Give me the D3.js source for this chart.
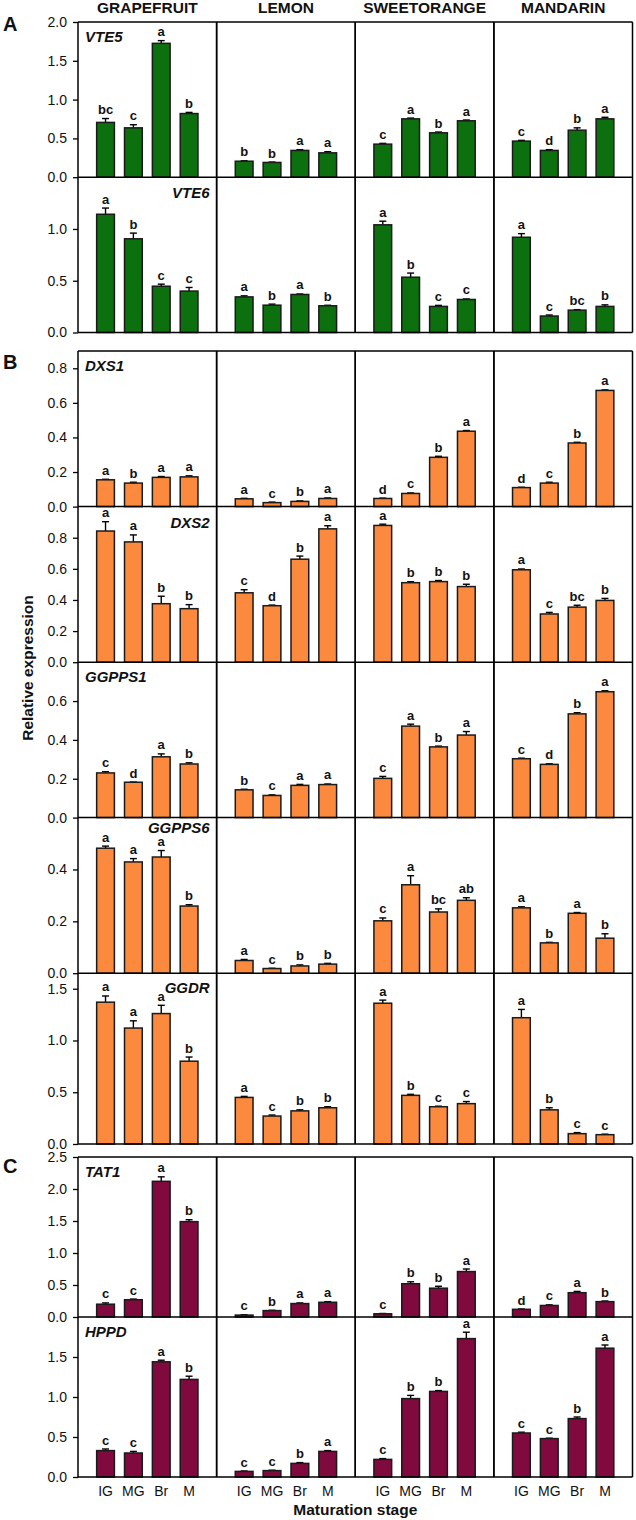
<!DOCTYPE html>
<html><head><meta charset="utf-8">
<script src="https://cdn.jsdelivr.net/npm/d3@7"></script>
<style>body{margin:0;background:#fff}svg{display:block;font-family:"Liberation Sans",Arial,sans-serif}</style>
</head><body><svg id="c" width="636" height="1520"></svg>
<script>
// ---------- data ----------
const fruits = ["GRAPEFRUIT","LEMON","SWEETORANGE","MANDARIN"];
const stages = ["IG","MG","Br","M"];
const genes = ["VTE5","VTE6","DXS1","DXS2","GGPPS1","GGPPS6","GGDR","TAT1","HPPD"];
const sectionLetters = ["A","B","C"];

// means [fruit][stage]
const vte5Mean = [[0.706,0.636,1.725,0.82],[0.206,0.19,0.345,0.314],[0.426,0.752,0.572,0.727],[0.465,0.345,0.606,0.752]];
const vte5Err  = [[0.05,0.04,0.035,0.015],[0.005,0.005,0.01,0.015],[0.01,0.01,0.01,0.01],[0.01,0.01,0.03,0.02]];
const vte5Sig  = [["bc","c","a","b"],["b","b","a","a"],["c","a","b","a"],["c","d","b","a"]];

const vte6Mean = [[1.142,0.905,0.447,0.40],[0.344,0.264,0.367,0.258],[1.04,0.534,0.252,0.319],[0.92,0.159,0.216,0.252]];
const vte6Err  = [[0.06,0.055,0.02,0.035],[0.01,0.01,0.005,0.005],[0.035,0.04,0.01,0.005],[0.035,0.01,0.005,0.015]];
const vte6Sig  = [["a","b","c","c"],["a","b","a","b"],["a","b","c","c"],["a","c","bc","b"]];

const dxs1Mean = [[0.155,0.136,0.169,0.172],[0.045,0.023,0.03,0.047],[0.047,0.076,0.285,0.436],[0.11,0.136,0.368,0.672]];
const dxs1Err  = [[0.003,0.005,0.005,0.006],[0.003,0.003,0.003,0.003],[0.002,0.003,0.006,0.004],[0.002,0.005,0.004,0.003]];
const dxs1Sig  = [["a","b","a","a"],["a","c","b","a"],["d","c","b","a"],["d","c","b","a"]];

const dxs2Mean = [[0.843,0.773,0.376,0.344],[0.446,0.363,0.662,0.857],[0.879,0.511,0.518,0.486],[0.594,0.31,0.354,0.397]];
const dxs2Err  = [[0.06,0.045,0.048,0.026],[0.02,0.004,0.02,0.02],[0.008,0.006,0.007,0.015],[0.005,0.01,0.012,0.013]];
const dxs2Sig  = [["a","a","b","b"],["c","d","b","a"],["a","b","b","b"],["a","c","bc","b"]];

const ggpps1Mean = [[0.23,0.182,0.313,0.276],[0.143,0.114,0.166,0.17],[0.202,0.471,0.364,0.425],[0.303,0.274,0.534,0.648]];
const ggpps1Err  = [[0.006,0.001,0.015,0.006],[0.003,0.003,0.005,0.003],[0.01,0.01,0.004,0.018],[0.003,0.003,0.006,0.005]];
const ggpps1Sig  = [["c","d","a","b"],["b","c","a","a"],["c","a","b","a"],["c","d","b","a"]];

const ggpps6Mean = [[0.482,0.429,0.448,0.259],[0.049,0.018,0.028,0.035],[0.202,0.341,0.236,0.281],[0.252,0.117,0.231,0.135]];
const ggpps6Err  = [[0.008,0.013,0.025,0.005],[0.004,0.001,0.004,0.003],[0.011,0.035,0.012,0.01],[0.004,0.002,0.003,0.017]];
const ggpps6Sig  = [["a","a","a","b"],["a","c","b","b"],["c","a","bc","ab"],["a","b","a","b"]];

const ggdrMean = [[1.37,1.12,1.26,0.80],[0.45,0.27,0.32,0.35],[1.36,0.47,0.36,0.39],[1.22,0.33,0.10,0.09]];
const ggdrErr  = [[0.06,0.07,0.08,0.04],[0.01,0.01,0.01,0.01],[0.03,0.01,0.005,0.02],[0.08,0.02,0.01,0.005]];
const ggdrSig  = [["a","a","a","b"],["a","c","b","b"],["a","b","c","c"],["a","b","c","c"]];

const tat1Mean = [[0.20,0.27,2.12,1.49],[0.03,0.10,0.21,0.23],[0.05,0.52,0.45,0.71],[0.12,0.18,0.38,0.24]];
const tat1Err  = [[0.02,0.01,0.07,0.03],[0.005,0.005,0.01,0.01],[0.005,0.03,0.03,0.04],[0.005,0.01,0.02,0.01]];
const tat1Sig  = [["c","c","a","b"],["c","b","a","a"],["c","b","b","a"],["d","c","a","b"]];

const hppdMean = [[0.33,0.30,1.44,1.22],[0.07,0.08,0.17,0.32],[0.22,0.98,1.07,1.73],[0.55,0.48,0.73,1.61]];
const hppdErr  = [[0.02,0.02,0.02,0.04],[0.005,0.005,0.01,0.01],[0.01,0.04,0.01,0.08],[0.01,0.005,0.02,0.04]];
const hppdSig  = [["c","c","a","b"],["c","c","b","a"],["c","b","b","a"],["c","c","b","a"]];

const yMaxes = [2.0,1.5,0.9,1.0,0.8,0.6,1.65,2.5,2.0];
const yTicks = [[0,0.5,1.0,1.5,2.0],[0,0.5,1.0],[0,0.2,0.4,0.6,0.8],[0,0.2,0.4,0.6,0.8],[0,0.2,0.4,0.6],[0,0.2,0.4],[0,0.5,1.0,1.5],[0,0.5,1.0,1.5,2.0,2.5],[0,0.5,1.0,1.5]];
const geneSection = [0,0,1,1,1,1,1,2,2];
const sectionColors = ["#0b700d","#fb8a3f","#800a3e"];
const xTitle = "Maturation stage";
const yTitle = "Relative expression";

const means = [vte5Mean,vte6Mean,dxs1Mean,dxs2Mean,ggpps1Mean,ggpps6Mean,ggdrMean,tat1Mean,hppdMean];
const errs  = [vte5Err,vte6Err,dxs1Err,dxs2Err,ggpps1Err,ggpps6Err,ggdrErr,tat1Err,hppdErr];
const sigs  = [vte5Sig,vte6Sig,dxs1Sig,dxs2Sig,ggpps1Sig,ggpps6Sig,ggdrSig,tat1Sig,hppdSig];

// ---------- layout ----------
const svg = d3.select("#c");
const L = 78, R = 632.5;
const colScale = d3.scaleBand().domain(fruits).range([L, R]);
const colW = colScale.bandwidth();
const x = d3.scaleBand().domain(stages).range([0, colW]).paddingInner(0.363).paddingOuter(0.67);

// panel vertical extents
const panelTop =    [22, 177.2, 351, 506.6, 662.2, 817.6, 973.2, 1157, 1317];
const panelBottom = [177.2, 332.5, 506.6, 662.2, 817.6, 973.2, 1144, 1317, 1477];
const geneLabelSide = ["left","right","left","right","left","right","right","left","left"];
const geneLabelDy = [19.5, 20.5, 20, 21, 20, 15.5, 19.5, 19.5, 19.5];
const sectionLetterDy = [9, 18, 16];

genes.forEach((g, gi) => {
  const y = d3.scaleLinear().domain([0, yMaxes[gi]]).range([panelBottom[gi], panelTop[gi]]);
  const color = sectionColors[geneSection[gi]];
  fruits.forEach((f, fi) => {
    const gx = svg.append("g").attr("transform", `translate(${colScale(f)},0)`);
    const data = stages.map((s, si) => ({s, v: means[gi][fi][si], e: errs[gi][fi][si], l: sigs[gi][fi][si]}));
    gx.selectAll("line.eb").data(data).enter().append("line")
      .attr("x1", d => x(d.s) + x.bandwidth()/2).attr("x2", d => x(d.s) + x.bandwidth()/2)
      .attr("y1", d => y(d.v)).attr("y2", d => y(d.v + d.e))
      .attr("stroke", "#000").attr("stroke-width", 1.4);
    gx.selectAll("line.cap").data(data).enter().append("line")
      .attr("x1", d => x(d.s) + x.bandwidth()/2 - 3.5).attr("x2", d => x(d.s) + x.bandwidth()/2 + 3.5)
      .attr("y1", d => y(d.v + d.e)).attr("y2", d => y(d.v + d.e))
      .attr("stroke", "#000").attr("stroke-width", 1.4);
    gx.selectAll("rect").data(data).enter().append("rect")
      .attr("x", d => x(d.s)).attr("width", x.bandwidth())
      .attr("y", d => y(d.v)).attr("height", d => y(0) - y(d.v))
      .attr("fill", color).attr("stroke", "#1a1a1a").attr("stroke-width", 1.5);
    gx.selectAll("text.sig").data(data).enter().append("text")
      .attr("x", d => x(d.s) + x.bandwidth()/2).attr("y", d => y(d.v + d.e) - 4.5)
      .attr("text-anchor", "middle").attr("font-size", 13).attr("font-weight", "bold")
      .attr("fill", "#111").text(d => d.l);
  });
  const ax = svg.append("g").attr("transform", `translate(${L},0)`)
    .call(d3.axisLeft(y).tickValues(yTicks[gi]).tickFormat(d3.format(".1f")).tickSize(5).tickPadding(6));
  ax.select(".domain").remove();
  ax.selectAll("line").attr("stroke", "#000").attr("stroke-width", 1.3);
  ax.selectAll("text").attr("font-size", 14).attr("fill", "#111").attr("font-family", '"Liberation Sans",Arial,sans-serif');
  svg.append("line").attr("x1", L).attr("x2", R).attr("y1", panelBottom[gi]).attr("y2", panelBottom[gi])
    .attr("stroke", "#000").attr("stroke-width", 1.5);
  const side = geneLabelSide[gi];
  svg.append("text")
    .attr("x", side === "left" ? L + 7 : colScale(fruits[0]) + colW - 7)
    .attr("y", panelTop[gi] + geneLabelDy[gi])
    .attr("text-anchor", side === "left" ? "start" : "end")
    .attr("font-size", 15).attr("font-weight", "bold").attr("font-style", "italic").attr("fill", "#111")
    .text(g);
});

const sectionTop = [0,1,2].map(s => d3.min(genes.map((g,i)=>geneSection[i]===s?panelTop[i]:Infinity)));
const sectionBottom = [0,1,2].map(s => d3.max(genes.map((g,i)=>geneSection[i]===s?panelBottom[i]:-Infinity)));
[0,1,2].forEach(s => {
  svg.append("line").attr("x1", L).attr("x2", R).attr("y1", sectionTop[s]).attr("y2", sectionTop[s]).attr("stroke","#000").attr("stroke-width",1.5);
  fruits.forEach(f => {
    [colScale(f), colScale(f) + colW].forEach(xx => {
      svg.append("line").attr("x1", xx).attr("x2", xx).attr("y1", sectionTop[s]).attr("y2", sectionBottom[s]).attr("stroke","#000").attr("stroke-width",1.5);
    });
  });
  svg.append("text").attr("x", 3).attr("y", sectionTop[s] + sectionLetterDy[s]).attr("font-size", 20).attr("font-weight","bold").attr("fill","#111").text(sectionLetters[s]);
});

svg.selectAll("text.col").data(fruits).enter().append("text")
  .attr("x", d => colScale(d) + colW/2).attr("y", 13).attr("text-anchor","middle")
  .attr("font-size", 15.5).attr("font-weight","bold").attr("fill","#111").text(d => d);

fruits.forEach(f => {
  const ax = svg.append("g").attr("transform", `translate(${colScale(f)},${panelBottom[8]})`)
    .call(d3.axisBottom(x).tickSize(0).tickPadding(9));
  ax.select(".domain").remove();
  ax.selectAll("text").attr("font-size", 14).attr("fill","#111").attr("font-family", '"Liberation Sans",Arial,sans-serif');
});
svg.append("text").attr("x", (L+R)/2).attr("y", 1515).attr("text-anchor","middle")
  .attr("font-size", 15.5).attr("font-weight","bold").attr("fill","#111").text(xTitle);
svg.append("text").attr("transform", "translate(33,668) rotate(-90)").attr("text-anchor","middle")
  .attr("font-size", 15.5).attr("font-weight","bold").attr("fill","#111").text(yTitle);
</script></body></html>
